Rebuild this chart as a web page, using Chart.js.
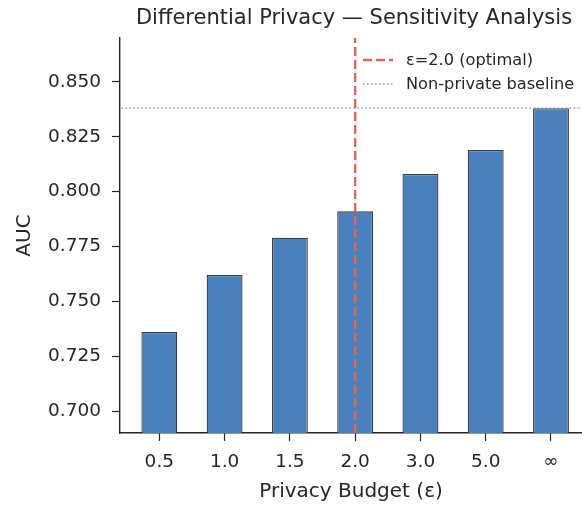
<!DOCTYPE html>
<html>
<head>
<meta charset="utf-8">
<script src="https://cdn.jsdelivr.net/npm/chart.js@4.4.1/dist/chart.umd.min.js"></script>
<style>
  html, body { margin: 0; padding: 0; background: #fff; }
  #wrap { width: 582px; height: 506px; position: relative; }
</style>
</head>
<body>
<div id="wrap"><canvas id="myChart" width="582" height="506"></canvas></div>
<script>
// datos
const epsLabels = ['0.5', '1.0', '1.5', '2.0', '3.0', '5.0', '\u221e'];
const aucValues = [0.736, 0.762, 0.779, 0.791, 0.808, 0.819, 0.838];
const optimalIndex = 3;
const baselineAuc = 0.838;
const yTicks = [0.700, 0.725, 0.750, 0.775, 0.800, 0.825, 0.850];

const FONT = "'DejaVu Sans', sans-serif";
const TEXTO = '#262626';

// titulo centrado sobre los ejes (como matplotlib)
const titlePlugin = {
    id: 'titulo',
    afterDraw(chart) {
        const c = chart.ctx;
        c.save();
        c.font = '21px ' + FONT;
        c.fillStyle = TEXTO;
        c.textAlign = 'center';
        c.textBaseline = 'middle';
        c.fillText('Differential Privacy \u2014 Sensitivity Analysis', 354, 18.5);
        c.restore();
    }
};

// leyenda dentro del area (arriba a la derecha)
const legendPlugin = {
    id: 'leyendaDentro',
    afterDraw(chart) {
        const c = chart.ctx;
        const items = [
            {text: '\u03b5=2.0 (optimal)', color: '#e0665a', dash: [9, 4], width: 2.4},
            {text: 'Non-private baseline', color: '#8c8c8c', dash: [1.5, 2.5], width: 1.3}
        ];
        c.save();
        c.font = '16.2px ' + FONT;
        c.textBaseline = 'middle';
        items.forEach((it, i) => {
            const y = 60 + i * 24;
            c.beginPath();
            c.setLineDash(it.dash);
            c.strokeStyle = it.color;
            c.lineWidth = it.width;
            c.moveTo(363, y);
            c.lineTo(393, y);
            c.stroke();
            c.setLineDash([]);
            c.fillStyle = TEXTO;
            c.fillText(it.text, 406, y + 0.5);
        });
        c.restore();
    }
};

const ctx = document.getElementById('myChart').getContext('2d');
const myChart = new Chart(ctx, {
    type: 'bar',
    data: {
        datasets: [
            {
                type: 'line',
                label: 'Non-private baseline',
                data: [{x: -0.7, y: baselineAuc}, {x: 6.6, y: baselineAuc}],
                borderColor: '#8c8c8c',
                borderWidth: 1.3,
                borderDash: [1.5, 2.5],
                pointRadius: 0,
                order: 0
            },
            {
                type: 'line',
                label: '\u03b5=2.0 (optimal)',
                data: [{x: optimalIndex, y: 0.69}, {x: optimalIndex, y: 0.87}],
                borderColor: '#e0665a',
                borderWidth: 2.4,
                borderDash: [9, 4],
                pointRadius: 0,
                order: 0
            },
            {
                label: 'AUC',
                data: aucValues.map((v, i) => ({x: i, y: v})),
                backgroundColor: '#4a80bb',
                borderColor: '#3a3f47',
                borderWidth: 1.3,
                borderSkipped: false,
                barPercentage: 1.0,
                categoryPercentage: 0.55,
                order: 1
            }
        ]
    },
    options: {
        responsive: false,
        animation: false,
        layout: { padding: { top: 38, left: 0, right: 0, bottom: 0 } },
        plugins: {
            legend: { display: false },
            title: { display: false },
            tooltip: { enabled: false }
        },
        scales: {
            x: {
                type: 'linear',
                min: -0.6025,
                max: 6.475,
                offset: false,
                afterBuildTicks: axis => {
                    axis.ticks = epsLabels.map((_, i) => ({value: i}));
                },
                afterFit: axis => { axis.height = 73; },
                ticks: {
                    autoSkip: false,
                    maxRotation: 0,
                    font: { family: FONT, size: 18.5 },
                    color: TEXTO,
                    padding: 10,
                    callback: v => epsLabels[v]
                },
                grid: {
                    display: true,
                    offset: false,
                    drawOnChartArea: false,
                    tickLength: 8,
                    tickColor: TEXTO,
                    tickWidth: 1.2
                },
                border: { display: true, color: TEXTO, width: 1.4 },
                title: {
                    display: true,
                    text: 'Privacy Budget (\u03b5)',
                    font: { family: FONT, size: 20 },
                    color: TEXTO,
                    padding: { top: 0, bottom: 2 }
                }
            },
            y: {
                min: 0.69,
                max: 0.87,
                afterBuildTicks: axis => {
                    axis.ticks = yTicks.map(v => ({value: v}));
                },
                afterFit: axis => { axis.width = 120; },
                ticks: {
                    font: { family: FONT, size: 18.5 },
                    color: TEXTO,
                    padding: 11,
                    callback: v => v.toFixed(3)
                },
                grid: {
                    display: true,
                    drawOnChartArea: false,
                    tickLength: 8,
                    tickColor: TEXTO,
                    tickWidth: 1.2
                },
                border: { display: true, color: TEXTO, width: 1.4 },
                title: {
                    display: true,
                    text: 'AUC',
                    font: { family: FONT, size: 20 },
                    color: TEXTO,
                    padding: { top: 13, bottom: 0 }
                }
            }
        }
    },
    plugins: [titlePlugin, legendPlugin]
});
</script>
</body>
</html>
